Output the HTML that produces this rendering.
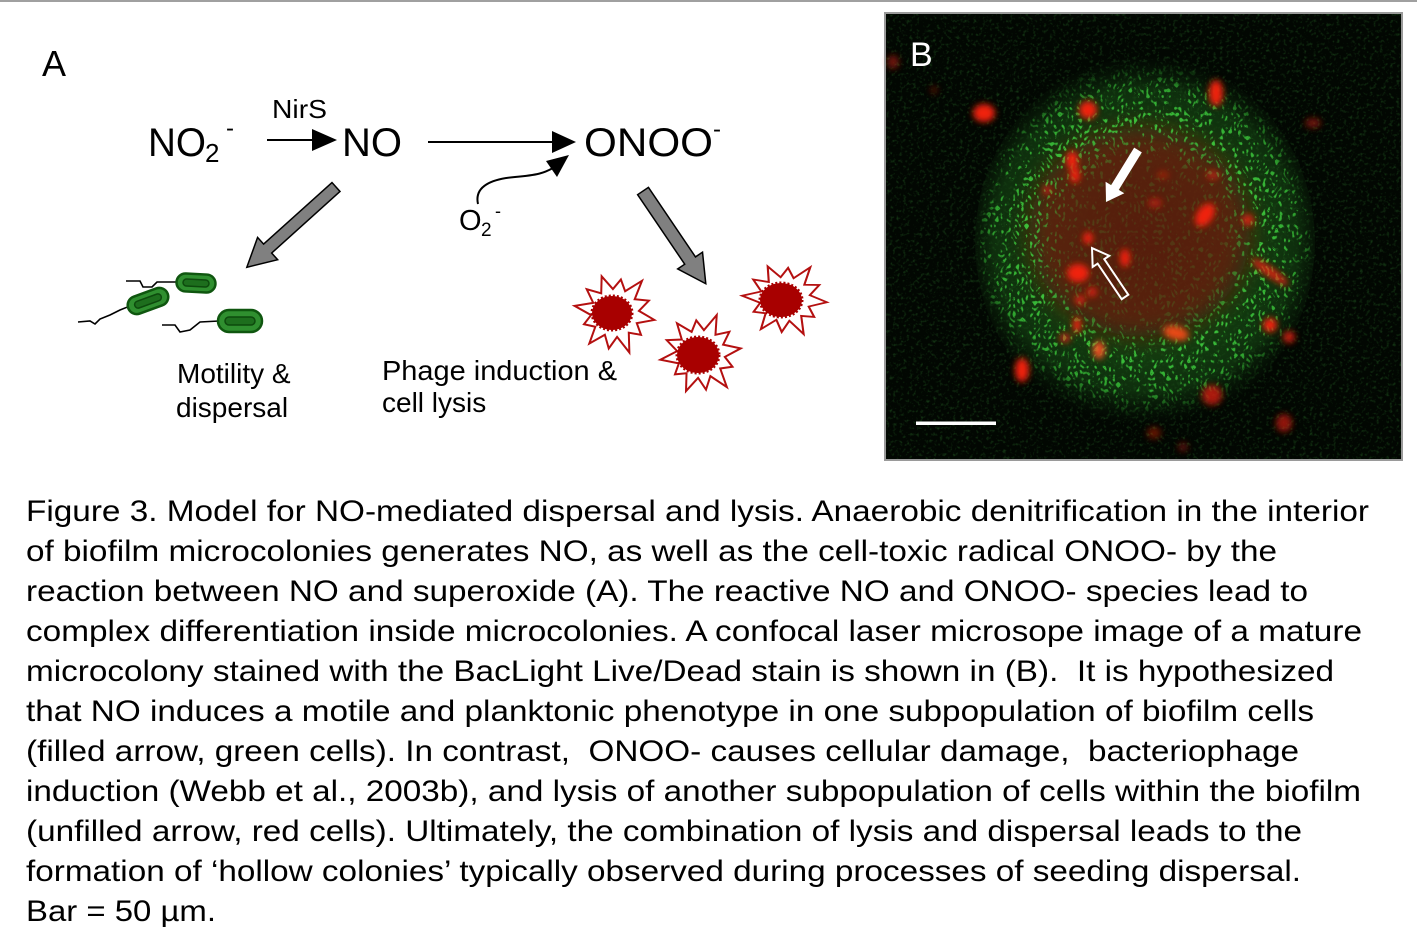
<!DOCTYPE html>
<html>
<head>
<meta charset="utf-8">
<style>
  html,body{margin:0;padding:0;background:#fff;}
  svg{display:block;}
  text{font-family:"Liberation Sans", Arial, sans-serif; white-space:pre;}
</style>
</head>
<body>
<svg width="1417" height="945" viewBox="0 0 1417 945" xmlns="http://www.w3.org/2000/svg">
  <defs>
    <radialGradient id="ringG" cx="1145" cy="240" r="180" gradientUnits="userSpaceOnUse">
      <stop offset="0" stop-color="#3fc03f" stop-opacity="0.12"/>
      <stop offset="0.45" stop-color="#3fc03f" stop-opacity="0.2"/>
      <stop offset="0.64" stop-color="#40d040" stop-opacity="0.9"/>
      <stop offset="0.84" stop-color="#38c038" stop-opacity="0.8"/>
      <stop offset="1" stop-color="#2a9a2a" stop-opacity="0"/>
    </radialGradient>
    <radialGradient id="glowG" cx="1145" cy="240" r="185" gradientUnits="userSpaceOnUse">
      <stop offset="0" stop-color="#1c3a10" stop-opacity="0.5"/>
      <stop offset="0.6" stop-color="#1a5516" stop-opacity="0.7"/>
      <stop offset="0.82" stop-color="#164814" stop-opacity="0.6"/>
      <stop offset="1" stop-color="#0a200a" stop-opacity="0"/>
    </radialGradient>
    <filter id="speck" filterUnits="userSpaceOnUse" x="885" y="13" width="517" height="447">
      <feTurbulence type="turbulence" baseFrequency="0.24 0.17" numOctaves="1" seed="7" result="n"/>
      <feColorMatrix in="n" type="matrix" values="0 0 0 0 0  0 0 0 0 0  0 0 0 0 0  6.5 0 0 0 -1.65" result="na"/>
      <feComposite in="SourceGraphic" in2="na" operator="in"/>
    </filter>
    <filter id="faint" filterUnits="userSpaceOnUse" x="885" y="13" width="517" height="447">
      <feTurbulence type="fractalNoise" baseFrequency="0.3" numOctaves="2" seed="2" result="n"/>
      <feColorMatrix in="n" type="matrix" values="0 0 0 0 0.04  0 0 0 0 0.3  0 0 0 0 0.04  1.6 0 0 0 -0.85"/>
    </filter>
    <filter id="blur12" x="-50%" y="-50%" width="200%" height="200%"><feGaussianBlur stdDeviation="12"/></filter>
    <filter id="blur3" x="-100%" y="-100%" width="300%" height="300%"><feGaussianBlur stdDeviation="3.2"/></filter>
    <polygon id="star" points="40,0 23.2,6.2 29.4,17 17,17 21,36.4 6.2,23.2 0,36 -6.2,23.2 -20,34.6 -17,17 -28.6,16.5 -23.2,6.2 -41,0 -23.2,-6.2 -32,-18.5 -17,-17 -19.5,-33.8 -6.2,-23.2 0,-34 6.2,-23.2 21,-36.4 17,-17 31.2,-18 23.2,-6.2"/>
  </defs>

  <rect x="0" y="0" width="1417" height="945" fill="#ffffff"/>
  <rect x="0" y="0" width="1417" height="2" fill="#a0a0a0"/>

  <!-- Panel A -->
  <text x="42" y="76" font-size="36" fill="#000">A</text>

  <text x="148" y="156" font-size="40" fill="#000" textLength="58" lengthAdjust="spacingAndGlyphs">NO</text>
  <text x="205" y="162" font-size="26" fill="#000">2</text>
  <text x="226" y="136" font-size="24" fill="#000">-</text>

  <text x="272" y="118" font-size="26" fill="#000" textLength="55" lengthAdjust="spacingAndGlyphs">NirS</text>
  <line x1="267" y1="140" x2="314" y2="140" stroke="#000" stroke-width="2"/>
  <polygon points="312,129 337,140 312,151" fill="#000"/>

  <text x="342" y="156" font-size="40" fill="#000" textLength="60" lengthAdjust="spacingAndGlyphs">NO</text>

  <line x1="428" y1="142" x2="554" y2="142" stroke="#000" stroke-width="2"/>
  <polygon points="552,131 576,142 552,153" fill="#000"/>

  <text x="584" y="156" font-size="40" fill="#000" textLength="129" lengthAdjust="spacingAndGlyphs">ONOO</text>
  <text x="713" y="137" font-size="24" fill="#000">-</text>

  <!-- O2- curved arrow -->
  <path d="M478,204 C474,186 492,179 515,177 S544,173 553,168" fill="none" stroke="#000" stroke-width="2"/>
  <polygon points="569,155 546,161 557,177" fill="#000"/>
  <text x="459" y="230" font-size="29" fill="#000">O</text>
  <text x="481" y="236" font-size="19" fill="#000">2</text>
  <text x="495" y="217" font-size="18" fill="#000">-</text>

  <!-- gray arrows -->
  <polygon transform="translate(336,187) rotate(138)" points="0,-6 92,-6 92,-15 120,0 92,15 92,6 0,6" fill="#808080" stroke="#000" stroke-width="1.5" stroke-linejoin="miter"/>
  <polygon transform="translate(643,191) rotate(55.9)" points="0,-6.5 84,-6.5 84,-15 112,0 84,15 84,6.5 0,6.5" fill="#808080" stroke="#000" stroke-width="1.5" stroke-linejoin="miter"/>

  <!-- bacteria flagella -->
  <polyline points="126,281 140,281 143,287 152,287 157,282 177,282" fill="none" stroke="#000" stroke-width="1.6"/>
  <polyline points="78,322 90,321 95,324 100,319 110,315 120,310 130,306" fill="none" stroke="#000" stroke-width="1.6"/>
  <polyline points="162,325 175,325 180,332 190,330 200,322 219,321" fill="none" stroke="#000" stroke-width="1.6"/>
  <!-- bacteria rods -->
  <g transform="translate(196,283) rotate(3)">
    <rect x="-19.5" y="-9" width="39" height="18" rx="9" fill="#2f8f2f" stroke="#0f560f" stroke-width="2.5"/>
    <rect x="-13" y="-3.5" width="26" height="7" rx="3.5" fill="#1d6e1d" stroke="#0d4a0d" stroke-width="1.5"/>
  </g>
  <g transform="translate(148,301) rotate(-20)">
    <rect x="-21" y="-9" width="42" height="18" rx="9" fill="#2f8f2f" stroke="#0f560f" stroke-width="2.5"/>
    <rect x="-14" y="-3.5" width="28" height="7" rx="3.5" fill="#1d6e1d" stroke="#0d4a0d" stroke-width="1.5"/>
  </g>
  <g transform="translate(240,321)">
    <rect x="-22" y="-11" width="44" height="22" rx="11" fill="#2f8f2f" stroke="#0f560f" stroke-width="2.5"/>
    <rect x="-15" y="-4" width="30" height="8" rx="4" fill="#1d6e1d" stroke="#0d4a0d" stroke-width="1.5"/>
  </g>

  <text x="177" y="383" font-size="28" fill="#000">Motility &amp;</text>
  <text x="176" y="417" font-size="28" fill="#000">dispersal</text>

  <text x="382" y="380" font-size="28" fill="#000" textLength="235" lengthAdjust="spacingAndGlyphs">Phage induction &amp;</text>
  <text x="382" y="412" font-size="28" fill="#000">cell lysis</text>

  <!-- stars -->
  <use href="#star" transform="translate(615,313) rotate(10)" fill="#fff" stroke="#b41010" stroke-width="2"/>
  <use href="#star" transform="translate(701,354) rotate(-8)" fill="#fff" stroke="#b41010" stroke-width="2"/>
  <use href="#star" transform="translate(785,299) scale(1.05,0.92) rotate(5)" fill="#fff" stroke="#b41010" stroke-width="2"/>
  <ellipse cx="612" cy="313" rx="20" ry="17" fill="#a80000" stroke="#a80000" stroke-width="3" stroke-dasharray="2 2"/>
  <ellipse cx="698" cy="355" rx="21" ry="18" fill="#a80000" stroke="#a80000" stroke-width="3" stroke-dasharray="2 2"/>
  <ellipse cx="781" cy="300" rx="21" ry="17" fill="#a80000" stroke="#a80000" stroke-width="3" stroke-dasharray="2 2"/>

  <!-- Panel B -->
  <rect x="885" y="13" width="517" height="447" fill="#020702"/>
  <rect x="885" y="13" width="517" height="447" filter="url(#faint)" opacity="0.6"/>
  <ellipse cx="1145" cy="242" rx="170" ry="185" fill="url(#glowG)"/>
  <ellipse cx="1140" cy="232" rx="110" ry="104" fill="#6e1a0c" opacity="0.75" filter="url(#blur12)"/>
  <ellipse cx="1145" cy="242" rx="165" ry="180" fill="url(#ringG)" filter="url(#speck)"/>

  <g fill="#f02010" filter="url(#blur3)">
    <ellipse cx="984" cy="113" rx="11" ry="9"/>
    <ellipse cx="1088" cy="110" rx="9" ry="9"/>
    <ellipse cx="1216" cy="93" rx="7" ry="13"/>
    <ellipse cx="1072" cy="160" rx="6" ry="9"/>
    <ellipse cx="1075" cy="175" rx="5" ry="8"/>
    <ellipse cx="1047" cy="190" rx="4" ry="5" opacity="0.7"/>
    <ellipse cx="1088" cy="238" rx="5" ry="6"/>
    <ellipse cx="1125" cy="258" rx="5" ry="9"/>
    <ellipse cx="1078" cy="273" rx="11" ry="9"/>
    <ellipse cx="1092" cy="292" rx="5" ry="5" opacity="0.8"/>
    <ellipse cx="1080" cy="300" rx="5" ry="5" opacity="0.8"/>
    <ellipse cx="1077" cy="325" rx="4" ry="8"/>
    <ellipse cx="1065" cy="338" rx="6" ry="5" opacity="0.7"/>
    <ellipse cx="1099" cy="350" rx="6" ry="9" fill="#e85020"/>
    <ellipse cx="1176" cy="333" rx="13" ry="7" fill="#e84a18" transform="rotate(15 1176 333)"/>
    <ellipse cx="1205" cy="215" rx="8" ry="13" transform="rotate(35 1205 215)"/>
    <ellipse cx="1213" cy="175" rx="7" ry="5" opacity="0.5"/>
    <ellipse cx="1155" cy="203" rx="7" ry="5" opacity="0.5"/>
    <ellipse cx="1163" cy="175" rx="6" ry="4" opacity="0.4"/>
    <ellipse cx="1248" cy="220" rx="6" ry="6" opacity="0.8"/>
    <ellipse cx="1270" cy="272" rx="22" ry="5" transform="rotate(35 1270 272)" opacity="0.8"/>
    <ellipse cx="1270" cy="325" rx="7" ry="7"/>
    <ellipse cx="1289" cy="337" rx="6" ry="6" opacity="0.8"/>
    <ellipse cx="1022" cy="370" rx="7" ry="12"/>
    <ellipse cx="1212" cy="395" rx="10" ry="10" opacity="0.7"/>
    <ellipse cx="1284" cy="423" rx="8" ry="9" opacity="0.6"/>
    <ellipse cx="1154" cy="433" rx="7" ry="6" opacity="0.4"/>
    <ellipse cx="1183" cy="447" rx="5" ry="5" opacity="0.35"/>
    <ellipse cx="1313" cy="123" rx="8" ry="5" opacity="0.45"/>
    <ellipse cx="893" cy="62" rx="6" ry="7" opacity="0.45"/>
    <ellipse cx="934" cy="90" rx="4" ry="4" opacity="0.3"/>
  </g>

  <!-- white arrows -->
  <polygon transform="translate(1138,150) rotate(121.6)" points="0,-4.5 44,-4.5 44,-11 61,0 44,11 44,4.5 0,4.5" fill="#ffffff"/>
  <polygon transform="translate(1125,297) rotate(-124)" points="0,-4 43,-4 43,-10 59,0 43,10 43,4 0,4" fill="none" stroke="#ffffff" stroke-width="2"/>

  <rect x="916" y="421.5" width="80" height="3.5" fill="#ffffff"/>
  <text x="910" y="66" font-size="34" fill="#ffffff">B</text>
  <rect x="885" y="13" width="517" height="447" fill="none" stroke="#9a9a9a" stroke-width="2"/>

  <!-- Caption -->
  <g font-size="30" fill="#000">
    <text x="26" y="521" textLength="1343" lengthAdjust="spacingAndGlyphs">Figure 3. Model for NO-mediated dispersal and lysis. Anaerobic denitrification in the interior</text>
    <text x="26" y="561" textLength="1251" lengthAdjust="spacingAndGlyphs">of biofilm microcolonies generates NO, as well as the cell-toxic radical ONOO- by the</text>
    <text x="26" y="601" textLength="1282" lengthAdjust="spacingAndGlyphs">reaction between NO and superoxide (A). The reactive NO and ONOO- species lead to</text>
    <text x="26" y="641" textLength="1336" lengthAdjust="spacingAndGlyphs">complex differentiation inside microcolonies. A confocal laser microsope image of a mature</text>
    <text x="26" y="681" textLength="1308" lengthAdjust="spacingAndGlyphs">microcolony stained with the BacLight Live/Dead stain is shown in (B).  It is hypothesized</text>
    <text x="26" y="721" textLength="1288" lengthAdjust="spacingAndGlyphs">that NO induces a motile and planktonic phenotype in one subpopulation of biofilm cells</text>
    <text x="26" y="761" textLength="1273" lengthAdjust="spacingAndGlyphs">(filled arrow, green cells). In contrast,  ONOO- causes cellular damage,  bacteriophage</text>
    <text x="26" y="801" textLength="1335" lengthAdjust="spacingAndGlyphs">induction (Webb et al., 2003b), and lysis of another subpopulation of cells within the biofilm</text>
    <text x="26" y="841" textLength="1276" lengthAdjust="spacingAndGlyphs">(unfilled arrow, red cells). Ultimately, the combination of lysis and dispersal leads to the</text>
    <text x="26" y="881" textLength="1275" lengthAdjust="spacingAndGlyphs">formation of ‘hollow colonies’ typically observed during processes of seeding dispersal.</text>
    <text x="26" y="921" textLength="190" lengthAdjust="spacingAndGlyphs">Bar = 50 µm.</text>
  </g>
</svg>
</body>
</html>
